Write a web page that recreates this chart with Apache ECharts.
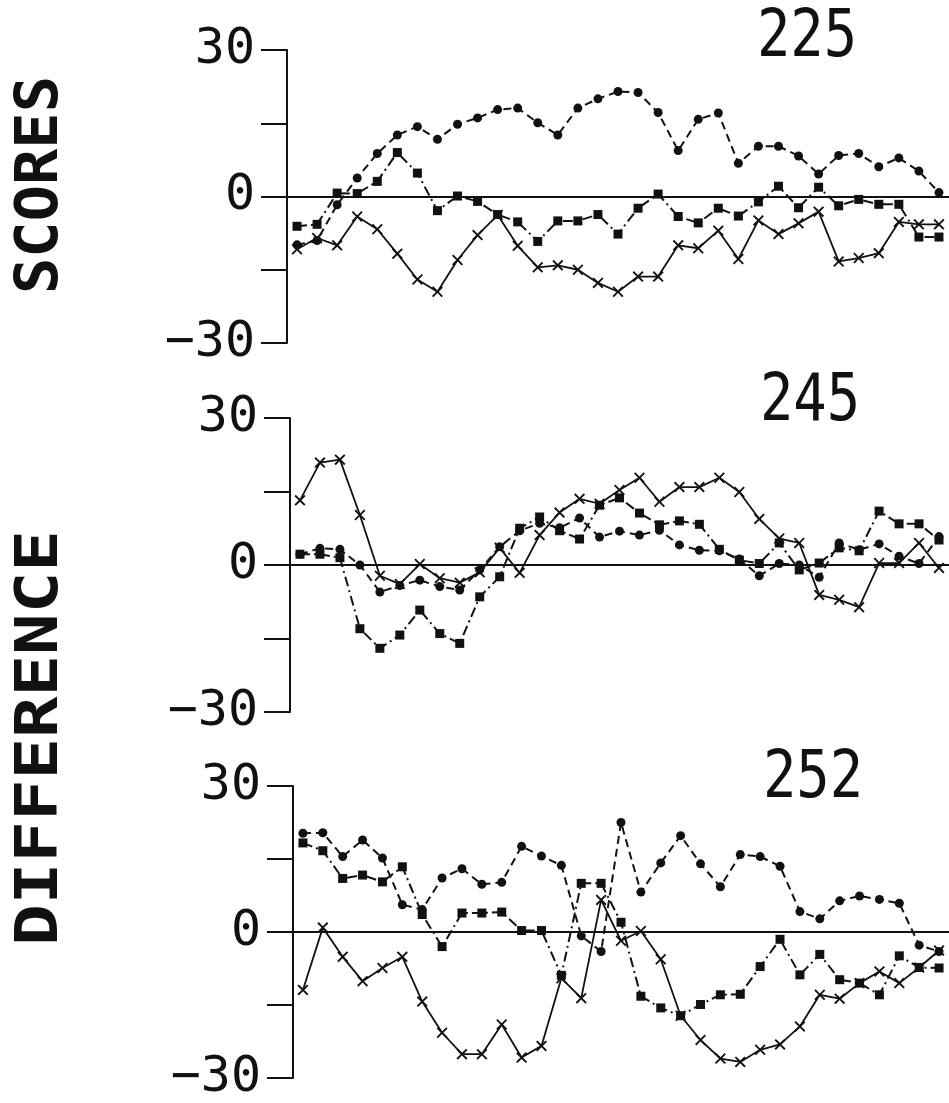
<!DOCTYPE html>
<html><head><meta charset="utf-8">
<script src="https://cdn.jsdelivr.net/npm/echarts@6/dist/echarts.min.js"></script>
<style>html,body{margin:0;padding:0;background:#fff}#c{width:949px;height:1103px}</style>
</head><body><div id="c"></div>
<script>
// ---- data ----
const timePoints = ['1','2','3','4','5','6','7','8','9','10','11','12','13','14','15','16','17','18','19','20','21','22','23','24','25','26','27','28','29','30','31','32','33'];
const panelTitles = ['225', '245', '252'];
const yTickLabels = ['30', '0', '−30'];
const yTickValues = [30, 0, -30];
const axisTitleTop = 'SCORES';
const axisTitleBottom = 'DIFFERENCE';

const p225Dots    = [-9.9,-9.0,-1.7,3.8,8.8,12.6,14.3,11.7,14.8,16.1,17.8,18.1,15.1,12.6,18.1,20.0,21.5,21.3,17.2,9.4,15.8,17.1,6.8,10.3,10.3,8.3,4.6,8.4,8.8,6.1,7.9,5.2,0.8];
const p225Squares = [-6.1,-5.7,0.7,0.6,3.1,9.0,4.8,-2.9,0.1,-1.0,-3.7,-5.2,-9.2,-5.0,-5.0,-3.7,-7.7,-2.4,0.5,-4.1,-5.4,-2.4,-4.0,-1.1,2.1,-2.3,1.9,-1.9,-0.6,-1.6,-1.6,-8.3,-8.3];
const p225Crosses = [-10.8,-8.5,-10.0,-4.1,-6.7,-11.7,-17.0,-19.5,-13.0,-7.9,-3.8,-10.1,-14.5,-14.1,-15.0,-17.7,-19.5,-16.4,-16.4,-10.0,-10.6,-7.0,-12.8,-4.9,-7.7,-5.5,-3.1,-13.3,-12.6,-11.6,-5.2,-5.7,-5.7];

const p245Dots    = [2.2,3.4,3.2,0.0,-5.5,-4.2,-3.1,-4.4,-5.1,-1.0,3.7,7.0,8.5,7.6,9.6,5.7,6.9,6.1,7.1,4.1,3.0,2.9,1.2,-2.2,0.3,0.0,-2.5,4.5,3.1,4.3,1.8,0.3,5.8];
const p245Squares = [2.2,2.2,1.5,-13.0,-17.0,-14.3,-9.2,-14.0,-16.0,-6.5,-2.4,7.5,9.8,7.0,5.3,12.2,13.7,10.6,8.2,9.0,8.3,3.2,1.0,0.3,4.5,-1.0,0.4,3.5,2.9,11.0,8.4,8.4,5.1];
const p245Crosses = [13.2,20.9,21.5,10.2,-2.2,-3.9,0.2,-2.7,-3.6,-1.5,3.5,-1.6,6.1,10.7,13.5,12.5,15.3,17.8,12.9,15.9,15.9,17.8,14.9,9.4,5.4,4.5,-6.1,-7.1,-8.6,0.4,0.4,4.5,-0.6];

const p252Dots    = [20.3,20.4,15.5,18.9,15.2,5.6,4.6,11.1,13.0,9.8,10.2,17.6,15.6,13.7,-0.8,-4.0,22.5,8.2,14.2,19.8,14.0,9.3,15.9,15.5,13.5,4.2,2.7,6.4,7.4,6.7,5.9,-2.7,-4.0];
const p252Squares = [18.3,16.7,11.0,11.7,10.3,13.4,3.6,-3.0,3.9,3.9,4.1,0.3,0.3,-8.9,10.0,10.0,2.0,-13.2,-15.6,-17.2,-14.9,-12.9,-12.8,-7.1,-1.5,-8.8,-4.6,-9.8,-10.5,-12.9,-4.9,-7.3,-7.4];
const p252Crosses = [-11.9,0.9,-5.1,-10.1,-7.4,-5.1,-14.3,-20.7,-25.1,-25.1,-19.0,-25.8,-23.4,-9.5,-13.6,6.6,-1.8,0.2,-5.6,-17.2,-22.2,-26.0,-26.7,-24.2,-23.1,-19.4,-12.9,-13.7,-10.5,-8.1,-10.5,-7.3,-3.8];

const panels = [
  {title: panelTitles[0], dots: p225Dots, squares: p225Squares, crosses: p225Crosses},
  {title: panelTitles[1], dots: p245Dots, squares: p245Squares, crosses: p245Crosses},
  {title: panelTitles[2], dots: p252Dots, squares: p252Squares, crosses: p252Crosses}
];

// ---- layout / style ----
const INK = '#111';
const FONT = '"DejaVu Sans Mono", "Liberation Mono", monospace';
const gridBoxes = [
  {left: 287, top: 50, width: 665, height: 293},
  {left: 290, top: 418, width: 665, height: 294},
  {left: 293, top: 786, width: 665, height: 297}
];
const titlePos = [[807, 39], [810, 403], [813, 780]];
const crossPath = 'path://M0,1.2L1.2,0L5,3.8L8.8,0L10,1.2L6.2,5L10,8.8L8.8,10L5,6.2L1.2,10L0,8.8L3.8,5Z';

const chart = echarts.init(document.getElementById('c'), null, {renderer: 'canvas'});

const grid = gridBoxes.map(g => Object.assign({containLabel: false}, g));
const xAxis = gridBoxes.map((g, i) => ({
  type: 'category', gridIndex: i, data: timePoints, boundaryGap: true,
  axisLine: {show: true, onZero: true, lineStyle: {color: INK, width: 2}},
  axisTick: {show: false}, axisLabel: {show: false}, splitLine: {show: false}
}));
const yAxis = gridBoxes.map((g, i) => ({
  type: 'value', gridIndex: i, min: -30, max: 30, interval: 15,
  axisLine: {show: true, lineStyle: {color: INK, width: 2}},
  axisTick: {show: true, inside: false, length: 26, lineStyle: {color: INK, width: 2}},
  splitLine: {show: false},
  axisLabel: {
    show: true, margin: 32, color: INK, fontSize: 50, fontFamily: FONT,
    formatter: v => { const k = yTickValues.indexOf(v); return k >= 0 ? yTickLabels[k] : ''; }
  }
}));

const series = [];
panels.forEach((p, i) => {
  series.push({
    type: 'line', xAxisIndex: i, yAxisIndex: i, data: p.dots,
    symbol: 'circle', symbolSize: 9, showAllSymbol: true,
    itemStyle: {color: INK}, lineStyle: {color: INK, width: 2, type: [8, 5]}
  });
  series.push({
    type: 'line', xAxisIndex: i, yAxisIndex: i, data: p.squares,
    symbol: 'rect', symbolSize: 9, showAllSymbol: true,
    itemStyle: {color: INK}, lineStyle: {color: INK, width: 2, type: [10, 4, 2, 4]}
  });
  series.push({
    type: 'line', xAxisIndex: i, yAxisIndex: i, data: p.crosses,
    symbol: crossPath, symbolSize: 11, showAllSymbol: true,
    itemStyle: {color: INK}, lineStyle: {color: INK, width: 1.8, type: 'solid'}
  });
});

const graphic = [];
panels.forEach((p, i) => {
  graphic.push({
    type: 'text', x: titlePos[i][0], y: titlePos[i][1], scaleX: 0.84,
    style: {text: p.title, fontSize: 66, fontFamily: FONT, fill: INK, align: 'center', verticalAlign: 'middle'}
  });
});
graphic.push({
  type: 'text', x: 42, y: 185, rotation: Math.PI / 2, scaleX: 1.04,
  style: {text: axisTitleTop, fontSize: 58, fontWeight: 'bold', fontFamily: FONT, fill: INK, align: 'center', verticalAlign: 'middle'}
});
graphic.push({
  type: 'text', x: 42, y: 738, rotation: Math.PI / 2, scaleX: 1.19,
  style: {text: axisTitleBottom, fontSize: 58, fontWeight: 'bold', fontFamily: FONT, fill: INK, align: 'center', verticalAlign: 'middle'}
});

chart.setOption({
  animation: false,
  backgroundColor: '#fff',
  grid, xAxis, yAxis, series, graphic
});
</script>
</body></html>
